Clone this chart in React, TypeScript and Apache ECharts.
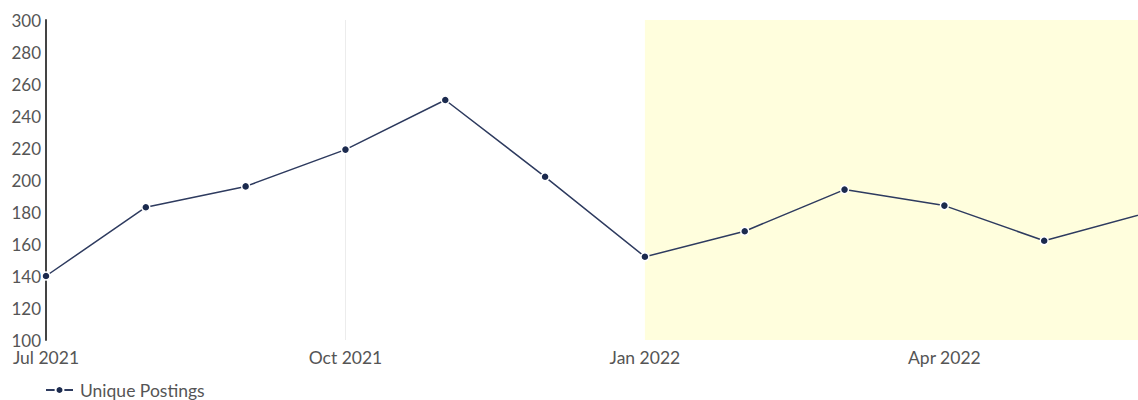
import React, { useEffect, useRef } from "react";
import * as echarts from "echarts";

const categories = [
  "Jul 2021", "Aug 2021", "Sep 2021", "Oct 2021", "Nov 2021", "Dec 2021",
  "Jan 2022", "Feb 2022", "Mar 2022", "Apr 2022", "May 2022", "Jun 2022",
];
const uniquePostings = [140, 183, 196, 219, 250, 202, 152, 168, 194, 184, 162, 179];
const highlightRange = ["Jan 2022", "Jun 2022"];
const seriesName = "Unique Postings";

export default function App() {
  const ref = useRef<HTMLDivElement>(null);
  useEffect(() => {
    if (!ref.current) return;
    const chart = echarts.init(ref.current, undefined, { renderer: "svg" });
    const font = "Lato, 'Noto Sans', sans-serif";
    chart.setOption({
      animation: false,
      textStyle: { fontFamily: font },
      grid: { left: 46, right: -6, top: 20, bottom: 60, containLabel: false, outerBoundsMode: "none" },
      legend: {
        left: 40,
        top: 376,
        itemWidth: 27,
        itemHeight: 10,
        itemGap: 10,
        textStyle: { color: "#555", fontSize: 17.5, fontFamily: font, padding: [0, 0, 0, 2] },
        data: [seriesName],
      },
      xAxis: {
        type: "category",
        data: categories,
        boundaryGap: false,
        axisLine: { show: false },
        axisTick: { show: false },
        axisLabel: { interval: 2, color: "#555", fontSize: 17.5, margin: 8, fontFamily: font },
        splitLine: { show: true, interval: 2, lineStyle: { color: "#ececec", width: 1 } },
      },
      yAxis: {
        type: "value",
        min: 100,
        max: 300,
        interval: 20,
        axisLine: { show: true, lineStyle: { color: "#444", width: 2 } },
        axisTick: { show: false },
        splitLine: { show: false },
        axisLabel: { color: "#555", fontSize: 17, margin: 5, fontFamily: font },
      },
      series: [
        {
          name: seriesName,
          type: "line",
          data: uniquePostings,
          symbol: "circle",
          symbolSize: 8,
          showSymbol: true,
          lineStyle: { color: "#2e3b5f", width: 1.5 },
          itemStyle: { color: "#1b2a4e", borderColor: "#fff", borderWidth: 1.5 },
          markArea: {
            silent: true,
            itemStyle: { color: "#fffedd" },
            data: [[{ xAxis: highlightRange[0] }, { xAxis: highlightRange[1] }]],
          },
          z: 3,
        },
      ],
    });
    return () => chart.dispose();
  }, []);
  return (
    <div style={{ position: "absolute", left: 0, top: 0, width: 1138, height: 400, overflow: "hidden" }}>
      <div ref={ref} style={{ width: 1138, height: 400 }} />
    </div>
  );
}
